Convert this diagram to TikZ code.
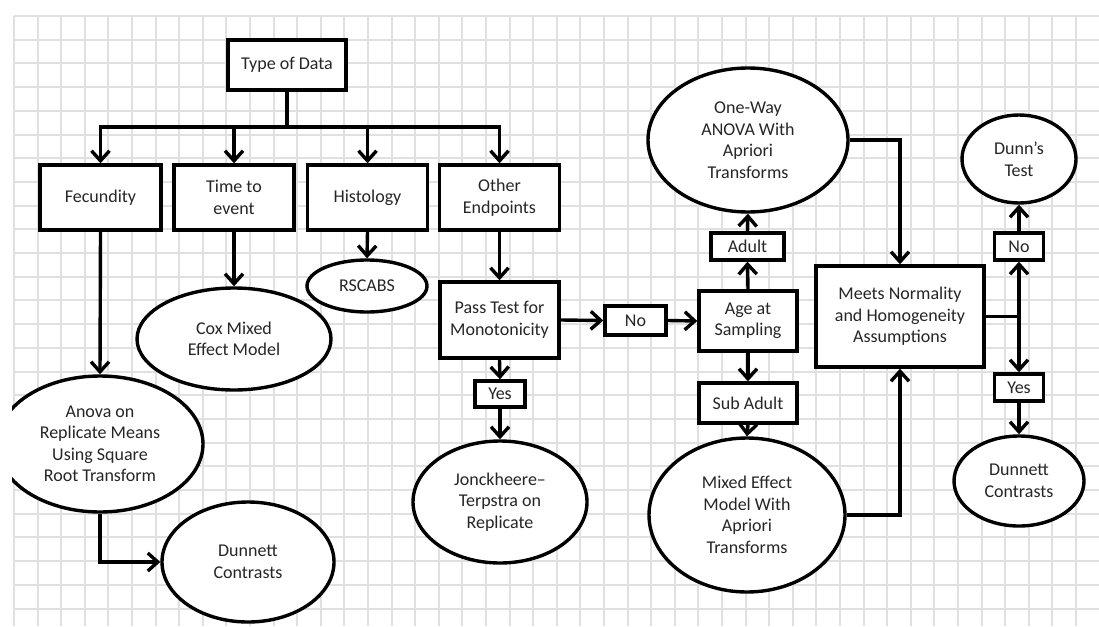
\documentclass[tikz,border=0pt]{standalone}
\usepackage{fontspec}
\setmainfont{Carlito}
\usetikzlibrary{arrows.meta,shapes.geometric}
\begin{document}
\begin{tikzpicture}[x=1pt,y=-1pt,
  box/.style={draw=black,line width=3.4pt,fill=white,inner sep=0pt,align=center,text=black!85,font=\fontsize{18}{21.5}\selectfont},
  oval/.style={ellipse,draw=black,line width=3.4pt,fill=white,inner sep=0pt,align=center,text=black!85,font=\fontsize{18}{21.5}\selectfont},
  conn/.style={line width=3.4pt,draw=black},
  arr/.style={conn,-{Straight Barb[length=10pt,width=18pt]}},
  gridline/.style={draw=black!12,line width=2pt}]
\useasboundingbox (0,0) rectangle (1099,626);
\fill[white] (0,0) rectangle (1099,626);
% grid
\foreach \i in {0,...,46} \draw[gridline] ({14+23.6*\i},16) -- ({14+23.6*\i},626);
\foreach \j in {0,...,25} \draw[gridline] (14,{16+23.7*\j}) -- (1099,{16+23.7*\j});

% boxes
\node[box,minimum width=118pt,minimum height=50pt] (typedata) at (287,65) {Type of Data};
\node[box,minimum width=121pt,minimum height=65pt] (fec) at (100.5,197.5) {Fecundity};
\node[box,minimum width=120pt,minimum height=65pt] (time) at (234,197.5) {Time to\\event};
\node[box,minimum width=120pt,minimum height=65pt] (hist) at (367.5,197.5) {Histology};
\node[box,minimum width=120pt,minimum height=65pt] (other) at (499.5,197.5) {Other\\Endpoints};
\node[box,minimum width=119pt,minimum height=76pt] (pass) at (499.5,320) {Pass Test for\\Monotonicity};
\node[box,minimum width=50pt,minimum height=26pt] (yes1) at (500,394) {Yes};
\node[box,minimum width=61pt,minimum height=29pt] (no1) at (635.5,320.5) {No};
\node[box,minimum width=98pt,minimum height=60pt] (age) at (748,321) {Age at\\Sampling};
\node[box,minimum width=73pt,minimum height=27pt] (adult) at (747.5,246.5) {Adult};
\node[box,minimum width=98pt,minimum height=40pt] (subadult) at (748,403) {Sub Adult};
\node[box,minimum width=168pt,minimum height=101pt] (meets) at (900,316.5) {Meets Normality\\and Homogeneity\\Assumptions};
\node[box,minimum width=49pt,minimum height=27pt] (no2) at (1019,246.5) {No};
\node[box,minimum width=49pt,minimum height=27pt] (yes2) at (1019,387.5) {Yes};

% ellipses
\node[oval,minimum width=194pt,minimum height=102pt] (cox) at (234,339) {Cox Mixed\\Effect Model};
\node[oval,minimum width=120pt,minimum height=52pt] (rscabs) at (367,286) {RSCABS};
\begin{scope}
\clip (12,0) rectangle (1099,626);
\node[oval,minimum width=206pt,minimum height=136pt] (anova) at (100,444) {Anova on\\Replicate Means\\Using Square\\Root Transform};
\end{scope}
\node[oval,minimum width=172pt,minimum height=120pt] (dun1) at (248,562) {Dunnett\\Contrasts};
\node[oval,minimum width=174pt,minimum height=122pt] (jonck) at (500,502) {Jonckheere–\\Terpstra on\\Replicate};
\node[oval,minimum width=200pt,minimum height=144pt] (oneway) at (748,140) {One-Way\\ANOVA With\\Apriori\\Transforms};
\node[oval,minimum width=196pt,minimum height=154pt] (mixed) at (747,515) {Mixed Effect\\Model With\\Apriori\\Transforms};
\node[oval,minimum width=114pt,minimum height=88pt] (dunn) at (1019,159) {Dunn's\\Test};
\node[oval,minimum width=130pt,minimum height=90pt] (dun2) at (1019,481) {Dunnett\\Contrasts};

% connectors
\coordinate (bus) at (287,127);
\draw[conn] (typedata.south) -- (bus);
\draw[conn,line cap=rect] (fec.north |- bus) -- (other.north |- bus);
\draw[arr] (bus) -| (fec.north);
\draw[arr] (bus) -| (time.north);
\draw[arr] (bus) -| (hist.north);
\draw[arr] (bus) -| (other.north);
\draw[arr] (fec.south) -- (anova.north);
\draw[arr] (time.south) -- (cox.north);
\draw[arr] (hist.south) -- (rscabs.north);
\draw[arr] (other.south) -- (pass.north);
\draw[arr] (pass.south) -- (yes1.north);
\draw[arr] (yes1.south) -- (jonck.north);
\draw[arr] (pass.east) -- (no1.west);
\draw[arr] (no1.east) -- (age.west);
\draw[arr] (age.north) -- (adult.south);
\draw[arr] (adult.north) -- (oneway.south);
\draw[arr] (age.south) -- (subadult.north);
\draw[arr] (subadult.south) -- (mixed.north);
\draw[arr] (oneway.east) -| (meets.north);
\draw[arr] (mixed.east) -| (meets.south);
\draw[arr] (anova.south) |- (dun1.west);
\coordinate (split) at (no2.south |- meets.east);
\draw[conn] (meets.east) -- (split);
\draw[arr] (split) -- (no2.south);
\draw[arr] (split) -- (yes2.north);
\draw[arr] (no2.north) -- (dunn.south);
\draw[arr] (yes2.south) -- (dun2.north);
\end{tikzpicture}
\end{document}
